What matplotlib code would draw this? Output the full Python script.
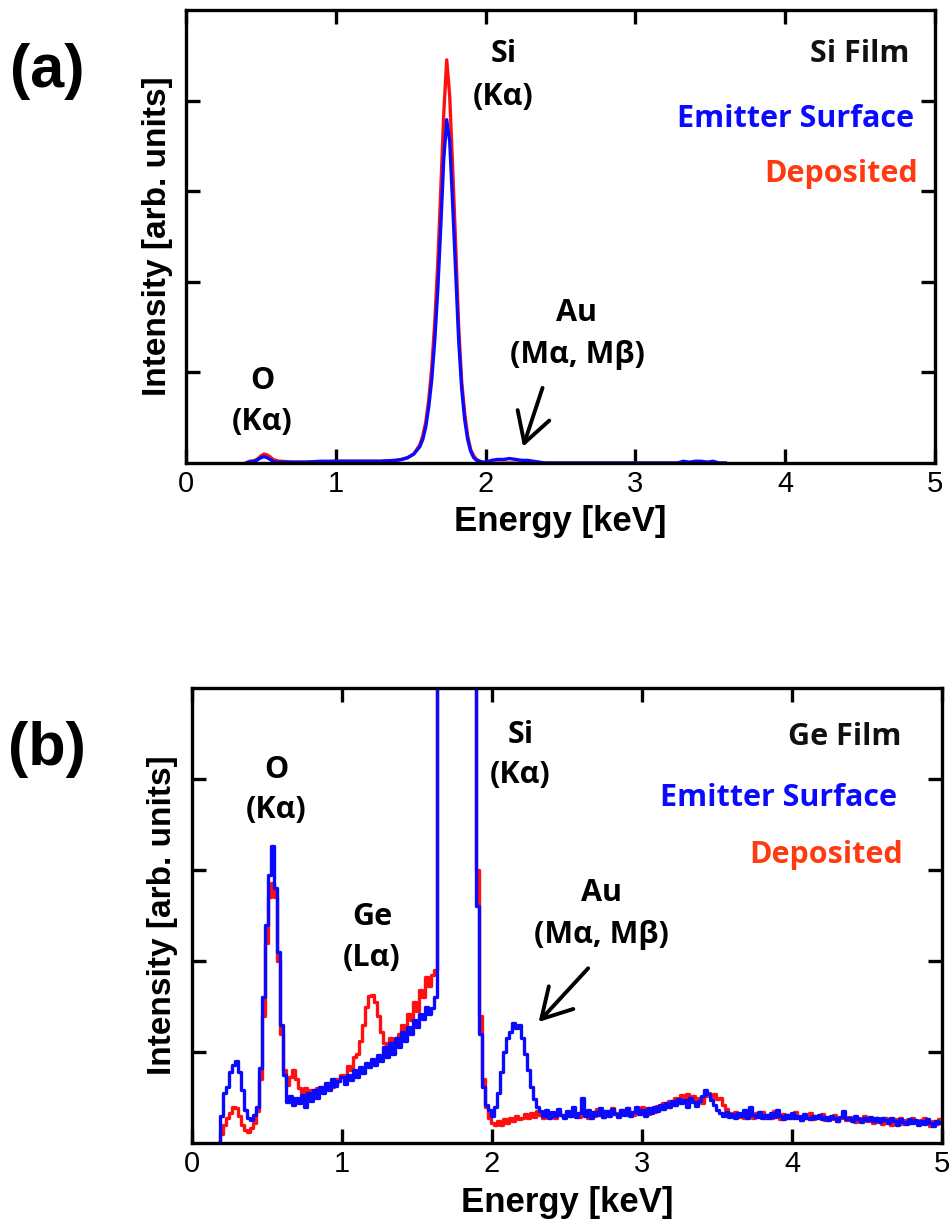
import numpy as np
import matplotlib
matplotlib.use("Agg")
import matplotlib.pyplot as plt

# ---- panel (a): Si film ----
a_energy = [0.40, 0.42, 0.44, 0.46, 0.48, 0.50, 0.52, 0.54, 0.56, 0.58,
            0.60, 0.62, 0.64, 0.70, 0.80, 0.90, 1.00, 1.10, 1.20, 1.30,
            1.40, 1.44, 1.48, 1.52, 1.56, 1.58, 1.60, 1.62, 1.64, 1.66,
            1.68, 1.70, 1.72, 1.74, 1.76, 1.78, 1.80, 1.82, 1.84, 1.86,
            1.88, 1.90, 1.92, 1.94, 1.96, 1.98, 2.00, 2.04, 2.08, 2.12,
            2.16, 2.20, 2.24, 2.28, 2.32, 2.36, 2.40, 2.44, 3.28, 3.32,
            3.36, 3.40, 3.44, 3.48, 3.52, 3.56, 3.60]
a_deposited = [0.00, 0.02, 0.02, 0.03, 0.05, 0.08, 0.10, 0.09, 0.07, 0.04,
               0.03, 0.02, 0.02, 0.01, 0.01, 0.01, 0.02, 0.02, 0.02, 0.02,
               0.03, 0.04, 0.06, 0.10, 0.20, 0.30, 0.45, 0.70, 1.05, 1.55,
               2.20, 3.00, 3.85, 4.45, 4.05, 3.25, 2.40, 1.50, 0.90, 0.55,
               0.30, 0.15, 0.08, 0.04, 0.02, 0.01, 0.00, 0.00, 0.00, 0.00,
               0.00, 0.00, 0.00, 0.00, 0.00, 0.00, 0.00, 0.00, 0.00, 0.00,
               0.00, 0.00, 0.00, 0.00, 0.00, 0.00, 0.00]
a_emitter = [0.00, 0.01, 0.02, 0.02, 0.04, 0.06, 0.07, 0.06, 0.04, 0.02,
             0.01, 0.01, 0.01, 0.01, 0.01, 0.02, 0.02, 0.02, 0.02, 0.02,
             0.03, 0.04, 0.06, 0.10, 0.18, 0.26, 0.40, 0.62, 0.92, 1.35,
             1.90, 2.60, 3.35, 3.79, 3.55, 2.85, 2.10, 1.35, 0.82, 0.48,
             0.26, 0.13, 0.06, 0.03, 0.02, 0.01, 0.01, 0.03, 0.04, 0.04,
             0.05, 0.04, 0.03, 0.03, 0.02, 0.01, 0.00, 0.00, 0.00, 0.02,
             0.01, 0.02, 0.02, 0.01, 0.02, 0.00, 0.00]

# ---- panel (b): Ge film, channels 0.18 .. 5.00 keV every 0.02 keV ----
b_start, b_step = 0.18, 0.02
b_emitter = [
    0.00, 0.30, 0.55, 0.62, 0.78, 0.86, 0.90, 0.78, 0.58, 0.36,   # 0.18
    0.28, 0.25, 0.31, 0.40, 0.82, 1.60, 2.40, 2.95, 3.26, 2.80,   # 0.38
    2.10, 1.30, 0.75, 0.45, 0.52, 0.42, 0.50, 0.44, 0.53, 0.40,   # 0.58
    0.55, 0.46, 0.58, 0.49, 0.62, 0.55, 0.66, 0.58, 0.70, 0.63,   # 0.78
    0.68, 0.72, 0.65, 0.75, 0.69, 0.80, 0.72, 0.83, 0.77, 0.88,   # 0.98
    0.83, 0.92, 0.86, 0.97, 0.90, 1.05, 0.95, 1.10, 0.98, 1.15,   # 1.18
    1.05, 1.22, 1.12, 1.28, 1.20, 1.35, 1.28, 1.42, 1.36, 1.50,   # 1.38
    1.42, 1.48, 1.60, 6.00, 6.00, 6.00, 6.00, 6.00, 6.00, 6.00,   # 1.58
    6.00, 6.00, 6.00, 6.00, 6.00, 6.00, 2.60, 1.20, 0.62, 0.42,   # 1.78
    0.36, 0.30, 0.40, 0.55, 0.78, 1.00, 1.15, 1.22, 1.32, 1.26,   # 1.98
    1.30, 1.15, 0.98, 0.80, 0.62, 0.48, 0.40, 0.35, 0.30, 0.36,   # 2.18
    0.28, 0.34, 0.30, 0.37, 0.31, 0.28, 0.35, 0.30, 0.40, 0.29,   # 2.38
    0.33, 0.50, 0.30, 0.36, 0.28, 0.34, 0.31, 0.38, 0.29, 0.35,   # 2.58
    0.30, 0.37, 0.32, 0.29, 0.36, 0.31, 0.38, 0.30, 0.34, 0.40,   # 2.78
    0.32, 0.36, 0.30, 0.38, 0.33, 0.40, 0.35, 0.42, 0.37, 0.44,   # 2.98
    0.40, 0.46, 0.42, 0.48, 0.44, 0.47, 0.40, 0.50, 0.45, 0.41,   # 3.18
    0.46, 0.52, 0.58, 0.54, 0.47, 0.42, 0.36, 0.33, 0.30, 0.34,   # 3.38
    0.29, 0.32, 0.27, 0.33, 0.30, 0.36, 0.28, 0.40, 0.31, 0.29,   # 3.58
    0.34, 0.28, 0.31, 0.27, 0.33, 0.29, 0.36, 0.30, 0.26, 0.31,   # 3.78
    0.28, 0.33, 0.27, 0.30, 0.25, 0.32, 0.28, 0.26, 0.30, 0.27,   # 3.98
    0.31, 0.26, 0.29, 0.25, 0.30, 0.27, 0.24, 0.29, 0.35, 0.26,   # 4.18
    0.28, 0.24, 0.30, 0.26, 0.23, 0.28, 0.25, 0.29, 0.24, 0.27,   # 4.38
    0.23, 0.28, 0.25, 0.22, 0.27, 0.24, 0.20, 0.26, 0.23, 0.21,   # 4.58
    0.26, 0.22, 0.25, 0.20, 0.24, 0.21, 0.26, 0.22, 0.19, 0.24,   # 4.78
    0.22, 0.23]                                                   # 4.98
b_deposited = [
    0.00, 0.10, 0.20, 0.28, 0.33, 0.40, 0.38, 0.30, 0.20, 0.14,   # 0.18
    0.12, 0.16, 0.22, 0.35, 0.70, 1.40, 2.20, 2.70, 2.86, 2.70,   # 0.38
    2.00, 1.20, 0.80, 0.64, 0.72, 0.80, 0.70, 0.60, 0.55, 0.60,   # 0.58
    0.50, 0.58, 0.52, 0.60, 0.56, 0.62, 0.60, 0.66, 0.62, 0.70,   # 0.78
    0.68, 0.75, 0.72, 0.85, 0.80, 0.95, 0.98, 1.12, 1.30, 1.50,   # 0.98
    1.62, 1.63, 1.55, 1.40, 1.22, 1.10, 1.05, 1.15, 1.08, 1.14,   # 1.18
    1.20, 1.30, 1.25, 1.42, 1.35, 1.55, 1.45, 1.68, 1.60, 1.82,   # 1.38
    1.72, 1.85, 1.90, 6.00, 6.00, 6.00, 6.00, 6.00, 6.00, 6.00,   # 1.58
    6.00, 6.00, 6.00, 6.00, 6.00, 6.00, 3.00, 1.40, 0.70, 0.40,   # 1.78
    0.28, 0.22, 0.20, 0.24, 0.20, 0.26, 0.22, 0.28, 0.24, 0.30,   # 1.98
    0.26, 0.28, 0.32, 0.27, 0.33, 0.29, 0.35, 0.31, 0.28, 0.34,   # 2.18
    0.30, 0.33, 0.28, 0.35, 0.31, 0.29, 0.34, 0.30, 0.36, 0.32,   # 2.38
    0.29, 0.35, 0.31, 0.28, 0.34, 0.30, 0.37, 0.32, 0.29, 0.35,   # 2.58
    0.31, 0.38, 0.33, 0.30, 0.36, 0.32, 0.39, 0.34, 0.31, 0.37,   # 2.78
    0.33, 0.40, 0.35, 0.32, 0.38, 0.34, 0.41, 0.37, 0.44, 0.40,   # 2.98
    0.46, 0.42, 0.50, 0.47, 0.53, 0.50, 0.54, 0.48, 0.52, 0.45,   # 3.18
    0.49, 0.44, 0.52, 0.55, 0.51, 0.54, 0.48, 0.50, 0.42, 0.37,   # 3.38
    0.33, 0.30, 0.34, 0.29, 0.32, 0.28, 0.35, 0.30, 0.27, 0.33,   # 3.58
    0.29, 0.34, 0.28, 0.31, 0.27, 0.35, 0.30, 0.26, 0.32, 0.28,   # 3.78
    0.31, 0.27, 0.34, 0.29, 0.25, 0.31, 0.28, 0.33, 0.26, 0.30,   # 3.98
    0.27, 0.32, 0.25, 0.29, 0.26, 0.31, 0.24, 0.28, 0.30, 0.25,   # 4.18
    0.29, 0.26, 0.23, 0.28, 0.25, 0.30, 0.24, 0.27, 0.22, 0.28,   # 4.38
    0.25, 0.21, 0.27, 0.24, 0.20, 0.26, 0.23, 0.27, 0.21, 0.25,   # 4.58
    0.22, 0.27, 0.24, 0.21, 0.25, 0.28, 0.22, 0.19, 0.24, 0.21,   # 4.78
    0.26, 0.23]                                                   # 4.98
b_energy = np.round(b_start + b_step * np.arange(len(b_emitter)), 2)

RED = "#ff1010"
BLUE = "#0a0aff"
TXT_RED = "#ff3a10"
ANN = dict(family=["Open Sans", "DejaVu Sans"], fontweight="bold", fontsize=22)
AXL = dict(family="Liberation Sans", fontweight="bold")

fig = plt.figure(figsize=(9.5, 12.26), dpi=100)
ax_a = fig.add_axes([0.196, 0.6223, 0.788, 0.3695])
ax_b = fig.add_axes([0.202, 0.0677, 0.790, 0.3711])


def style(ax, label_y):
    ax.set_xlim(0, 5)
    ax.set_ylim(0, 5)
    ax.set_xticks(range(6))
    ax.set_yticks([1, 2, 3, 4])
    ax.set_yticklabels([])
    ax.tick_params(direction="in", length=10, width=2.4, top=True, right=True,
                   labelsize=21, pad=5)
    for lab in ax.get_xticklabels():
        lab.set_family("Liberation Sans")
    for s in ax.spines.values():
        s.set_linewidth(2.4)
        s.set_color("black")
    ax.set_xlabel("Energy [keV]", va="center", fontsize=25, **AXL)
    ax.xaxis.set_label_coords(0.5, label_y)
    ax.set_ylabel("Intensity [arb. units]", va="center", fontsize=24, **AXL)
    ax.yaxis.set_label_coords(-0.039, 0.5)


ARROW = dict(arrowstyle="->,head_length=0.7,head_width=0.4", lw=2.8,
             color="black", mutation_scale=30, shrinkA=0, shrinkB=0)

# (a)
ax_a.plot(a_energy, a_deposited, color=RED, lw=2.4)
ax_a.plot(a_energy, a_emitter, color=BLUE, lw=2.4)
style(ax_a, -0.130)
ax_a.text(2.12, 4.51, "Si", ha="center", va="center", **ANN)
ax_a.text(2.12, 4.04, "(K\u03b1)", ha="center", va="center", **ANN)
ax_a.text(0.51, 0.91, "O", ha="center", va="center", **ANN)
ax_a.text(0.51, 0.45, "(K\u03b1)", ha="center", va="center", **ANN)
ax_a.text(2.61, 1.66, "Au", ha="center", va="center", **ANN)
ax_a.text(2.61, 1.19, "(M\u03b1, M\u03b2)", ha="center", va="center", **ANN)
ax_a.annotate("", xy=(2.25, 0.18), xytext=(2.38, 0.83), arrowprops=ARROW)
ax_a.text(4.83, 4.51, "Si Film", ha="right", va="center", color="#111111", **ANN)
ax_a.text(4.86, 3.80, "Emitter Surface", ha="right", va="center", color=BLUE, **ANN)
ax_a.text(4.89, 3.19, "Deposited", ha="right", va="center", color=TXT_RED, **ANN)

# (b)
ax_b.plot(b_energy, b_deposited, color=RED, lw=2.4, drawstyle="steps-mid")
ax_b.plot(b_energy, b_emitter, color=BLUE, lw=2.4, drawstyle="steps-mid")
style(ax_b, -0.130)
ax_b.text(0.56, 4.10, "O", ha="center", va="center", **ANN)
ax_b.text(0.56, 3.66, "(K\u03b1)", ha="center", va="center", **ANN)
ax_b.text(1.20, 2.48, "Ge", ha="center", va="center", **ANN)
ax_b.text(1.20, 2.03, "(L\u03b1)", ha="center", va="center", **ANN)
ax_b.text(2.19, 4.48, "Si", ha="center", va="center", **ANN)
ax_b.text(2.19, 4.04, "(K\u03b1)", ha="center", va="center", **ANN)
ax_b.text(2.73, 2.75, "Au", ha="center", va="center", **ANN)
ax_b.text(2.73, 2.29, "(M\u03b1, M\u03b2)", ha="center", va="center", **ANN)
ax_b.annotate("", xy=(2.31, 1.33), xytext=(2.64, 1.92), arrowprops=ARROW)
ax_b.text(4.73, 4.46, "Ge Film", ha="right", va="center", color="#111111", **ANN)
ax_b.text(4.70, 3.79, "Emitter Surface", ha="right", va="center", color=BLUE, **ANN)
ax_b.text(4.74, 3.16, "Deposited", ha="right", va="center", color=TXT_RED, **ANN)

fig.text(47 / 950, 1 - 72 / 1226, "(a)", ha="center", va="center",
         fontsize=44, **AXL)
fig.text(47 / 950, 1 - 750 / 1226, "(b)", ha="center", va="center",
         fontsize=44, **AXL)

fig.savefig("out.png", dpi=100)
